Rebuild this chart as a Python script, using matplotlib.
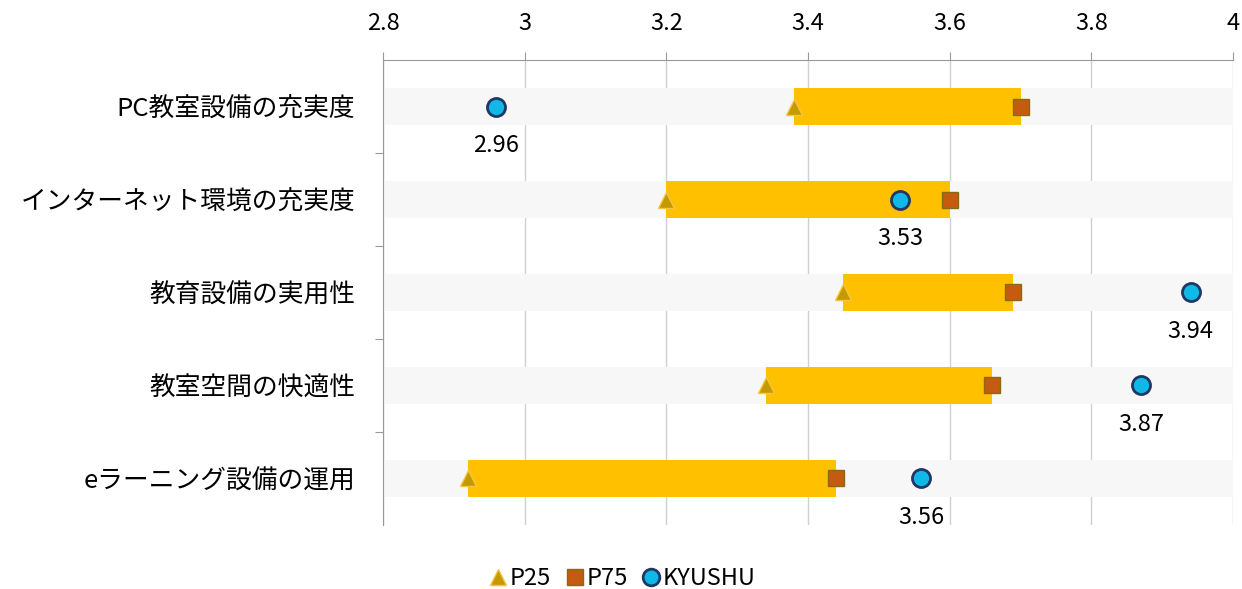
import matplotlib.pyplot as plt
from matplotlib.lines import Line2D

plt.rcParams['font.family'] = ['Noto Sans CJK JP', 'DejaVu Sans']

categories = ['PC教室設備の充実度', 'インターネット環境の充実度', '教育設備の実用性',
              '教室空間の快適性', 'eラーニング設備の運用']
p25 = [3.38, 3.20, 3.45, 3.34, 2.92]
p75 = [3.70, 3.60, 3.69, 3.66, 3.44]
kyushu = [2.96, 3.53, 3.94, 3.87, 3.56]
xticks = [2.8, 3, 3.2, 3.4, 3.6, 3.8, 4]

fig = plt.figure(figsize=(12.42, 5.89), dpi=100)
ax = fig.add_axes([0.3084, 0.1087, 0.6844, 0.7894])

y = list(range(len(categories)))
xmin, xmax = 2.8, 4.0

# background bands and P25-P75 range bars
ax.barh(y, [xmax - xmin] * len(y), left=xmin, height=0.4, color='#f7f7f7', zorder=1)
ax.barh(y, [b - a for a, b in zip(p25, p75)], left=p25, height=0.4, color='#ffc000', zorder=2)

ax.plot(p25, y, linestyle='none', marker='^', markersize=12,
        markerfacecolor='#c49a00', markeredgecolor='#f5c542', markeredgewidth=1, zorder=4)
ax.plot(p75, y, linestyle='none', marker='s', markersize=11,
        markerfacecolor='#c55a11', markeredgecolor='#8a6a10', markeredgewidth=1, zorder=4)
ax.plot(kyushu, y, linestyle='none', marker='o', markersize=13,
        markerfacecolor='#10b8e8', markeredgecolor='#1f3864', markeredgewidth=2, zorder=5)

for xi, yi in zip(kyushu, y):
    ax.text(xi, yi + 0.42, f'{xi:.2f}', ha='center', va='center', fontsize=17, color='#000000')

ax.set_xlim(xmin, xmax)
ax.set_ylim(len(y) - 0.5, -0.5)
ax.xaxis.tick_top()
ax.set_xticks(xticks)
ax.set_xticklabels(['2.8', '3', '3.2', '3.4', '3.6', '3.8', '4'], fontsize=17)
ax.tick_params(axis='x', length=6, color='#999999', pad=12)
ax.grid(axis='x', color='#d0d0d0', linewidth=1, zorder=0)
ax.set_axisbelow(True)

# category boundaries as ticks, labels at centres
ax.set_yticks([i + 0.5 for i in y[:-1]])
ax.set_yticklabels([])
ax.set_yticks(y, minor=True)
ax.set_yticklabels(categories, minor=True, fontsize=18.5)
ax.tick_params(axis='y', which='major', length=6, color='#999999', direction='out')
ax.tick_params(axis='y', which='minor', length=0, pad=20)

for s in ['right', 'bottom']:
    ax.spines[s].set_visible(False)
ax.spines['top'].set_color('#999999')
ax.spines['left'].set_color('#999999')

handles = [
    Line2D([], [], linestyle='none', marker='^', markersize=11, markerfacecolor='#c49a00',
           markeredgecolor='#f5c542', label='P25'),
    Line2D([], [], linestyle='none', marker='s', markersize=11, markerfacecolor='#c55a11',
           markeredgecolor='#8a6a10', label='P75'),
    Line2D([], [], linestyle='none', marker='o', markersize=12, markerfacecolor='#10b8e8',
           markeredgecolor='#1f3864', markeredgewidth=2, label='KYUSHU'),
]
fig.legend(handles=handles, loc='center', bbox_to_anchor=(0.5, 0.017), ncol=3, frameon=False,
           fontsize=17, handletextpad=0.0, columnspacing=0.5, handlelength=1.0)

fig.savefig('out.png', dpi=100)
